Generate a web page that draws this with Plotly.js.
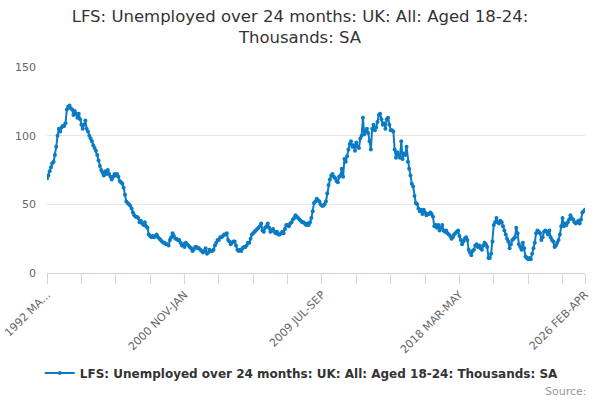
<!DOCTYPE html>
<html>
<head>
<meta charset="utf-8">
<script src="https://cdn.plot.ly/plotly-3.0.1.min.js"></script>
<style>html,body{margin:0;padding:0;background:#fff;}#chart{width:600px;height:400px;}</style>
</head>
<body>
<div id="chart"></div>
<script>
// Period labels: rolling three-month periods starting 1992 MAR-MAY
var monthNames = ["JAN","FEB","MAR","APR","MAY","JUN","JUL","AUG","SEP","OCT","NOV","DEC"];
var startYear = 1992;
var startMonth = 2; // MAR
var seriesName = "LFS: Unemployed over 24 months: UK: All: Aged 18-24: Thousands: SA";

var values = [
  69, 71, 74, 77, 80, 81, 86, 92, 100, 105,
  103, 106, 107, 107, 109, 119, 121, 122, 120, 119,
  115, 118, 116, 113, 116, 112, 108, 105, 108, 111,
  105, 103, 100, 98, 96, 93, 91, 89, 86, 82,
  78, 75, 73, 71, 74, 72, 75, 72, 70, 68,
  70, 72, 71, 72, 70, 67, 66, 65, 62, 57,
  52, 51, 50, 49, 47, 44, 42, 41, 41, 40,
  37, 38, 36, 35, 37, 34, 33, 28, 27, 26,
  27, 26, 27, 28, 26, 25, 24, 23, 22, 22,
  21, 21, 20, 24, 26, 29, 27, 25, 25, 24,
  24, 22, 20, 21, 19, 22, 21, 20, 19, 18,
  16, 17, 19, 19, 18, 18, 17, 16, 15, 16,
  18, 14, 15, 17, 16, 16, 17, 20, 22, 24,
  24, 26, 26, 27, 28, 28, 29, 24, 23, 21,
  22, 23, 23, 20, 17, 16, 17, 16, 18, 19,
  19, 20, 22, 22, 25, 28, 29, 30, 31, 32,
  33, 34, 36, 31, 30, 33, 34, 36, 33, 30,
  31, 32, 30, 29, 30, 28, 28, 29, 30, 29,
  32, 35, 35, 34, 36, 37, 39, 40, 42, 41,
  40, 39, 38, 37, 37, 36, 35, 36, 35, 37,
  40, 45, 51, 52, 54, 53, 52, 50, 49, 49,
  50, 52, 58, 64, 68, 71, 72, 70, 69, 67,
  66, 70, 71, 76, 70, 83, 81, 85, 90, 94,
  96, 92, 93, 89, 95, 92, 91, 98, 100, 113,
  101, 103, 105, 102, 96, 90, 105, 108, 104, 106,
  110, 115, 116, 112, 108, 109, 105, 112, 113, 108,
  104, 104, 103, 90, 84, 88, 86, 84, 96, 83,
  87, 86, 92, 81, 76, 71, 65, 63, 56, 51,
  50, 47, 45, 46, 43, 46, 44, 42, 43, 43,
  44, 43, 41, 34, 35, 33, 35, 31, 33, 35,
  31, 30, 31, 29, 28, 27, 25, 26, 28, 29,
  30, 31, 27, 24, 21, 23, 25, 26, 24, 17,
  15, 13, 16, 17, 20, 21, 19, 20, 18, 17,
  20, 22, 21, 19, 11, 11, 14, 23, 35, 37,
  40, 37, 36, 38, 37, 34, 31, 28, 25, 23,
  18, 21, 24, 25, 26, 33, 29, 21, 19, 17,
  22, 18, 12, 11, 10, 11, 10, 14, 18, 22,
  29, 31, 30, 29, 24, 26, 30, 31, 30, 28,
  31, 26, 24, 23, 19, 20, 22, 24, 28, 34,
  40, 34, 36, 35, 37, 39, 42, 40, 39, 37,
  36, 37, 38, 36, 39, 44, 45, 46
];

var labelledTicks = ["1992 MAR-MAY", "2000 NOV-JAN", "2009 JUL-SEP", "2018 MAR-MAY", "2026 FEB-APR"];
var labelledTickText = ["1992 MA...", "2000 NOV-JAN", "2009 JUL-SEP", "2018 MAR-MAY", "2026 FEB-APR"];
var yTicks = [0, 50, 100, 150];

var categories = [];
for (var i = 0; i < values.length; i++) {
  var m = startMonth + i;
  var y = startYear + Math.floor(m / 12);
  var a = monthNames[m % 12], c = monthNames[(m + 2) % 12];
  categories.push(y + " " + a + "-" + c);
}

var tickVals = [], tickText = [];
for (var k = 0; k < categories.length; k += 26) {
  tickVals.push(categories[k]);
  var idx = labelledTicks.indexOf(categories[k]);
  tickText.push(idx >= 0 ? labelledTickText[idx] : "");
}
tickVals.push(categories[categories.length - 1]);
tickText.push(labelledTickText[labelledTickText.length - 1]);

var color = "#0a7bc4";
var trace = {
  x: categories, y: values, type: "scatter", mode: "lines+markers",
  name: seriesName,
  line: {color: color, width: 2},
  marker: {color: color, size: 4},
  hoverinfo: "x+y"
};

var font = "DejaVu Sans, Verdana, sans-serif";
var layout = {
  width: 600, height: 400,
  margin: {l: 47, r: 15, t: 67, b: 127, autoexpand: false},
  paper_bgcolor: "#fff", plot_bgcolor: "#fff",
  title: {text: "LFS: Unemployed over 24 months: UK: All: Aged 18-24:<br>Thousands: SA",
          font: {family: font, size: 16.5, color: "#333333"},
          x: 0.5, xanchor: "center", xref: "container", yref: "container", y: 0.946, yanchor: "top"},
  xaxis: {type: "category", range: [0, categories.length - 1],
          tickmode: "array", tickvals: tickVals, ticktext: tickText,
          tickangle: -45, ticks: "outside", ticklen: 10, tickcolor: "#ccd6eb", tickwidth: 1,
          showline: true, linecolor: "#ccd6eb", linewidth: 1, showgrid: false, zeroline: false,
          tickfont: {family: font, size: 11, color: "#666666"}, automargin: false},
  yaxis: {range: [0, 150], tickmode: "array", tickvals: yTicks,
          showgrid: true, gridcolor: "#e6e6e6", gridwidth: 1, zeroline: false, showline: false,
          ticks: "", ticklabelstandoff: 10,
          tickfont: {family: font, size: 11, color: "#666666"}, automargin: false},
  showlegend: true,
  legend: {orientation: "h", x: 0.503, xanchor: "center", xref: "container",
           y: 0.0675, yanchor: "middle", yref: "container",
           font: {family: font, size: 12, color: "#333333", weight: "bold"}},
  annotations: [{text: "Source:", xref: "paper", yref: "paper", x: 1.0074, y: -0.573,
                 xanchor: "right", yanchor: "middle", showarrow: false,
                 font: {family: font, size: 11, color: "#999999"}}]
};

Plotly.newPlot("chart", [trace], layout, {displayModeBar: false, staticPlot: true});
</script>
</body>
</html>
